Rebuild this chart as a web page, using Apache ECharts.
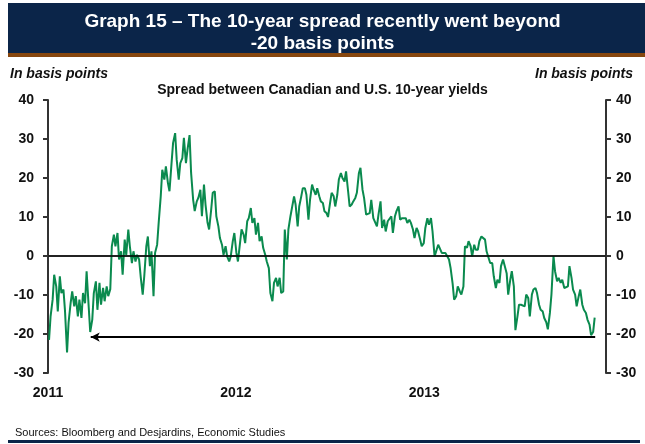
<!DOCTYPE html>
<html>
<head>
<meta charset="utf-8">
<script src="https://cdn.jsdelivr.net/npm/echarts@6/dist/echarts.min.js"></script>
<style>
  html, body { margin: 0; padding: 0; background: #ffffff; }
  #chart { width: 645px; height: 444px; }
</style>
</head>
<body>
<div id="chart"></div>
<script>
// Text shown on the chart
const titleLines = ['Graph 15 \u2013 The 10-year spread recently went beyond', '-20 basis points'];
const subtitle = 'Spread between Canadian and U.S. 10-year yields';
const unitLabel = 'In basis points';
const sourceText = 'Sources: Bloomberg and Desjardins, Economic Studies';

// Axis ranges
const yMin = -30, yMax = 40, yStep = 10;
const axisStart = '2011-01-01';
const axisEnd = '2013-12-20';

// Canada minus U.S. 10-year yield spread, basis points,
// sampled twice a week (Mondays and Thursdays) from the first observation
const firstObservation = '2011-01-03';
const spread = [
  -21.5, -15.5, -11.2, -4.8, -7.8, -14.2, -5.2, -9.5, -8.6, -14.0,
  -24.7, -17.0, -12.0, -9.1, -12.9, -10.3, -15.5, -11.2, -15.9, -9.5,
  -12.1, -3.9, -12.9, -19.5, -16.3, -9.5, -6.5, -13.8, -6.9, -12.5,
  -8.2, -11.6, -7.8, -10.3, -8.5, 2.5, 5.5, 2.5, 5.9, -0.9,
  1.2, -4.8, 4.2, 0.3, 6.8, 2.5, -1.8, 1.2, -1.4, 0.3,
  -0.9, -5.2, -9.9, -5.2, 2.5, 5.0, -2.6, 1.2, -10.3, 0.8,
  2.9, 8.5, 15.3, 22.1, 19.6, 23.0, 18.7, 16.6, 23.8, 29.0,
  31.5, 24.7, 19.6, 23.8,
  25.1, 30.3, 23.8, 27.3, 31.0, 21.3, 14.4, 11.5, 14.0, 14.9,
  17.0, 10.2, 18.3, 13.2, 8.5, 6.8, 11.9, 16.2, 16.6, 10.2,
  7.6, 4.6, 2.9, 0.3, 2.5, -0.1, -1.4, -0.1, 3.8, 5.9,
  0.8, -1.4, 3.3, 6.8, 5.5, 3.3, 8.9, 9.7, 12.3, 8.5,
  9.7, 5.5, 8.5, 3.8, 5.0, 2.1, 0.3, -1.4, -3.1, -9.5,
  -11.6, -6.9, -5.6, -7.8, -5.6, -9.5, -9.1, 6.8, -0.9, 6.8,
  10.2, 10.6, 15.3, 13.2, 7.6, 12.7, 15.3, 17.4, 17.4, 15.7,
  9.3, 14.4, 18.3, 17.0, 15.7, 17.4, 15.3,
  14.0, 13.6, 11.5, 11.0, 10.0, 13.6, 16.2, 15.3, 12.7, 15.7,
  19.6, 21.3, 20.0, 19.1, 21.7, 16.6, 12.7, 13.2, 14.0, 14.9,
  16.2, 21.3, 22.6, 17.0, 14.9, 10.6, 10.6, 11.0, 14.4, 9.7,
  9.3, 7.6, 10.6, 14.0, 7.2, 9.3, 6.3, 8.9, 8.5, 10.2,
  5.9, 10.2, 11.5, 12.7, 9.3, 9.7, 9.3, 9.7, 8.5, 9.3,
  8.5, 6.8, 4.6, 7.2, 6.3, 4.2, 2.5, 3.3, 7.2, 9.7,
  8.0, 9.7, 6.3, -0.1, 0.3, 2.9, 3.3, 0.8, 1.2, 0.8,
  0.3, -0.9, -3.0, -7.0, -11.2,
  -10.3, -7.8, -9.1, -9.9, -7.8, 2.5, 2.1, 3.8, 2.5, -0.1,
  2.9, 1.6, 1.6, 3.8, 5.0, 5.0, 4.2, 1.2, -0.5, -1.8,
  -1.8, -5.2, -8.2, -6.1, -6.9, -2.6, -0.9, -1.4, -4.4, -9.9,
  -6.1, -3.9, -7.8, -19.0, -15.5, -12.5, -12.5, -12.1, -12.9, -9.9,
  -10.8, -15.5, -9.9, -8.6, -8.2, -9.5, -12.5, -13.8, -14.2, -15.9,
  -17.0, -18.8, -14.6, -9.9, 0.0, -3.9, -6.5, -5.6, -6.9, -6.1,
  -8.2, -8.6, -7.8, -2.6, -5.6, -8.6, -9.9, -12.9, -10.3, -8.6,
  -12.5, -13.8, -14.6, -16.3, -17.6, -20.3, -19.5, -15.8
];

// Reference arrow drawn at the recent low
const arrowLevel = -20.8;
const arrowFrom = '2011-03-25';
const arrowTo = '2013-11-29';

// Observation dates: Mondays and the following Thursdays
const DAY = 86400000;
const t0 = Date.parse(firstObservation + 'T00:00:00Z');
const seriesData = spread.map((v, i) => {
  const offset = Math.floor(i / 2) * 7 + (i % 2) * 3;
  return [t0 + offset * DAY, v];
});
const ts = s => Date.parse(s + 'T00:00:00Z');

const NAVY = '#0b2549';
const BROWN = '#87470f';
const GREEN = '#0a8a4e';
const FONT = '"Liberation Sans", Arial, sans-serif';

const chart = echarts.init(document.getElementById('chart'), null, { renderer: 'canvas' });

const yAxisBase = {
  type: 'value', min: yMin, max: yMax, interval: yStep,
  axisLine: { show: true, lineStyle: { color: '#333333', width: 2 } },
  axisTick: { show: true, inside: false, length: 5, lineStyle: { color: '#333333', width: 2 } },
  splitLine: { show: false }
};
const yLabel = margin => ({ fontFamily: FONT, fontWeight: 'bold', fontSize: 14, color: '#111111', margin });
const unitStyle = { color: '#111111', fontFamily: FONT, fontWeight: 'bold', fontStyle: 'italic', fontSize: 14 };

const option = {
  animation: false,
  backgroundColor: '#ffffff',
  graphic: [
    { type: 'rect', shape: { x: 8, y: 3, width: 637, height: 50 }, style: { fill: NAVY }, silent: true },
    { type: 'rect', shape: { x: 8, y: 53, width: 637, height: 4 }, style: { fill: BROWN }, silent: true },
    { type: 'rect', shape: { x: 8, y: 440, width: 632, height: 3 }, style: { fill: NAVY }, silent: true }
  ],
  title: [
    {
      text: titleLines.join('\n'), left: 'center', top: 6,
      textStyle: { color: '#ffffff', fontFamily: FONT, fontWeight: 'bold', fontSize: 19, lineHeight: 22 }
    },
    { text: unitLabel, left: 5, top: 62, textStyle: unitStyle },
    { text: unitLabel, right: 7, top: 62, textStyle: unitStyle },
    {
      text: subtitle, left: 'center', top: 78,
      textStyle: { color: '#111111', fontFamily: FONT, fontWeight: 'bold', fontSize: 14 }
    },
    {
      text: sourceText, left: 10, top: 422,
      textStyle: { color: '#111111', fontFamily: FONT, fontWeight: 'normal', fontSize: 11 }
    }
  ],
  grid: { left: 48, right: 39, top: 100, bottom: 71, containLabel: false },
  xAxis: [
    {
      type: 'time', min: ts(axisStart), max: ts(axisEnd), splitNumber: 3,
      axisLine: { show: true, lineStyle: { color: '#999999', width: 2 } },
      axisTick: { show: false },
      splitLine: { show: false },
      axisLabel: {
        fontFamily: FONT, fontWeight: 'bold', fontSize: 14, color: '#111111', margin: 13,
        showMinLabel: true, showMaxLabel: false, hideOverlap: false,
        formatter: v => {
          const d = new Date(v);
          return (d.getUTCMonth() === 0 && d.getUTCDate() === 1) ? String(d.getUTCFullYear()) : '';
        }
      }
    },
    {
      type: 'time', position: 'top', min: ts(axisStart), max: ts(axisEnd),
      axisLine: { show: true, lineStyle: { color: '#8c8c8c', width: 2 } },
      axisTick: { show: false }, axisLabel: { show: false }, splitLine: { show: false }
    }
  ],
  yAxis: [
    Object.assign({}, yAxisBase, { position: 'left', axisLabel: yLabel(14) }),
    Object.assign({}, yAxisBase, { position: 'right', axisLabel: yLabel(10) })
  ],
  series: [
    {
      type: 'line', xAxisIndex: 0, yAxisIndex: 0,
      data: seriesData, showSymbol: false, symbol: 'none',
      lineStyle: { color: GREEN, width: 2 },
      z: 3,
      markLine: {
        silent: true, animation: false, symbol: ['none', 'none'],
        label: { show: false },
        emphasis: { disabled: true },
        data: [
          { yAxis: 0, lineStyle: { color: '#000000', width: 1.5, type: 'solid' } },
          [
            { coord: [ts(arrowFrom), arrowLevel], symbol: 'arrow', symbolSize: [7, 9],
              lineStyle: { color: '#000000', width: 2, type: 'solid' } },
            { coord: [ts(arrowTo), arrowLevel], symbol: 'none' }
          ]
        ]
      }
    }
  ]
};

chart.setOption(option);
</script>
</body>
</html>
